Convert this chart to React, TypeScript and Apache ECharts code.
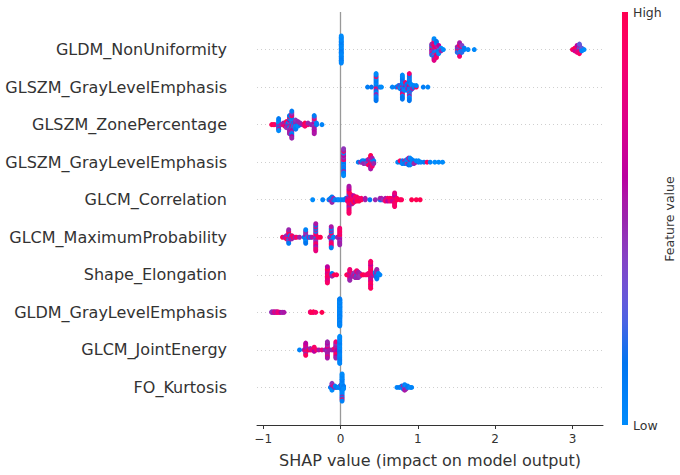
import React, { useEffect, useRef } from "react";
import * as echarts from "echarts";

// Each point: [SHAP value, feature value scaled to 0..1 for the colour map]
type Pt = [number, number];

// Feature labels, most important first (top row of the plot)
const featureNames = [
  "GLDM_NonUniformity",
  "GLSZM_GrayLevelEmphasis",
  "GLSZM_ZonePercentage",
  "GLSZM_GrayLevelEmphasis",
  "GLCM_Correlation",
  "GLCM_MaximumProbability",
  "Shape_Elongation",
  "GLDM_GrayLevelEmphasis",
  "GLCM_JointEnergy",
  "FO_Kurtosis",
];

const xTicks = [-1, 0, 1, 2, 3];
const xTitle = "SHAP value (impact on model output)";
const colorBarTitle = "Feature value";
const colorBarHigh = "High";
const colorBarLow = "Low";

const gldmNonUniformity: Pt[] = [
  [0.01, 0.05], [0.01, 0.02], [0.01, 0.08], [0.01, 0], [0.01, 0.1], [0.01, 0.04], [0.01, 0.06],
  [0.01, 0], [0.01, 0.03], [0.01, 0.07], [0.01, 0.01], [0.01, 0.09], [0.01, 0.05], [0.01, 0.02],
  [0.01, 0.08], [0.01, 0], [0.01, 0.1], [0.01, 0.04], [0.01, 0.06], [0.01, 0], [0.01, 0.03],
  [1.18, 0.9], [1.18, 0.15], [1.18, 0.6], [1.18, 1], [1.18, 0.4], [1.18, 0.1], [1.18, 0.85], [1.18, 0.5], [1.18, 0.2],
  [1.21, 0.85], [1.21, 0.1], [1.21, 0.55], [1.21, 0.95], [1.21, 0.2], [1.21, 0.7], [1.21, 0.05], [1.21, 1], [1.21, 0.45],
  [1.21, 0.8], [1.21, 0.3], [1.21, 0.6], [1.21, 0.15], [1.21, 0.9], [1.21, 0.5], [1.21, 0], [1.21, 0.75],
  [1.24, 0.1], [1.24, 0.9], [1.24, 0.35], [1.24, 0.65], [1.24, 0], [1.24, 0.75], [1.24, 0.2],
  [1.24, 0.5], [1.24, 0.95], [1.24, 0.05], [1.24, 0.6], [1.24, 0.15], [1.24, 0.85],
  [1.27, 0.15], [1.27, 0.85], [1.27, 0.05], [1.27, 0.4], [1.27, 0.1], [1.27, 0.6], [1.27, 0],
  [1.3, 0.1], [1.3, 0], [1.3, 0.5], [1.33, 0],
  [1.51, 0.4], [1.51, 0.1], [1.51, 0.95], [1.51, 0.5], [1.51, 0.2],
  [1.54, 0.6], [1.54, 0.2], [1.54, 0.9], [1.54, 0.45], [1.54, 0.05], [1.54, 0.75], [1.54, 0.3], [1.54, 1],
  [1.54, 0.1], [1.54, 0.55], [1.54, 0.85],
  [1.57, 0.1], [1.57, 0.5], [1.57, 0], [1.57, 0.85], [1.57, 0.2], [1.57, 0.4],
  [1.6, 0.05], [1.6, 0.1], [1.65, 0], [1.73, 0.02],
  [3.0, 0.95], [3.03, 0.85], [3.03, 1], [3.03, 0.7],
  [3.06, 0.7], [3.06, 0.95], [3.06, 0.5], [3.06, 0.9], [3.06, 0.8], [3.06, 0.6],
  [3.09, 0.6], [3.09, 0.2], [3.09, 0.85], [3.09, 0.4], [3.09, 0.75], [3.09, 0.5], [3.09, 0.9], [3.09, 0.3],
  [3.12, 0.1], [3.12, 0.3], [3.12, 0.05], [3.15, 0],
];

const glszmGrayLevelEmphasisA: Pt[] = [
  [0.35, 0.1], [0.4, 0.15],
  [0.46, 0.05], [0.46, 0.2], [0.46, 0.9], [0.46, 0.1], [0.46, 0.5], [0.46, 0], [0.46, 0.15], [0.46, 0.1],
  [0.46, 0.05], [0.46, 0.1], [0.46, 0.55], [0.46, 0], [0.46, 0.2], [0.46, 0.95], [0.46, 0.05], [0.46, 0.1],
  [0.46, 0.1], [0.46, 0], [0.46, 0.15],
  [0.51, 0.1], [0.53, 0],
  [0.67, 0.05], [0.72, 0.1], [0.75, 0.9], [0.75, 0.1],
  [0.77, 0.2], [0.77, 0.55], [0.77, 0.05], [0.78, 0], [0.78, 0.1],
  [0.8, 0.1], [0.8, 0.95], [0.8, 0.05], [0.8, 0.05], [0.8, 0.6], [0.8, 0.15], [0.8, 0.1], [0.8, 0], [0.8, 0.5],
  [0.8, 0.2], [0.8, 0.9], [0.8, 0.1], [0.8, 0.05], [0.8, 0.05], [0.8, 0.15], [0.8, 0], [0.8, 0.15],
  [0.82, 0.2], [0.82, 0.55], [0.82, 0.1], [0.82, 0.05], [0.82, 0.05],
  [0.84, 0.05], [0.84, 0.6], [0.84, 0.15], [0.84, 0.1], [0.84, 0], [0.84, 0.9],
  [0.86, 0.1], [0.86, 0.5], [0.86, 0.2], [0.86, 0.1], [0.86, 0.05],
  [0.87, 0], [0.87, 0.15], [0.87, 0.55],
  [0.89, 0.05], [0.89, 0.6], [0.89, 0.1], [0.89, 0.9], [0.89, 0.2], [0.89, 0.1], [0.89, 0], [0.89, 0.15],
  [0.89, 0.45], [0.89, 0.1], [0.89, 0.05], [0.89, 0.05], [0.89, 0.55], [0.89, 0.2], [0.89, 0], [0.89, 0.1],
  [0.89, 0.1], [0.89, 0.85], [0.89, 0.15],
  [0.91, 0.1], [0.91, 0.55], [0.91, 0.1], [0.91, 0.05], [0.91, 0.2],
  [0.93, 0.2], [0.93, 0], [0.93, 0.5], [0.95, 0.1], [0.95, 0.05], [0.98, 0.95], [0.98, 0.05],
  [1.07, 0.1], [1.13, 0.05],
];

const glszmZonePercentage: Pt[] = [
  [-0.89, 0.95], [-0.87, 1], [-0.85, 0.9],
  [-0.8, 0.05], [-0.8, 0.1], [-0.8, 0.5], [-0.8, 0], [-0.8, 0.15], [-0.8, 0.05], [-0.8, 0.55], [-0.8, 0.1], [-0.8, 0],
  [-0.77, 0.5], [-0.74, 0.95], [-0.74, 0.55], [-0.72, 0.85], [-0.72, 0.5], [-0.72, 0.9],
  [-0.7, 1], [-0.7, 0.5], [-0.7, 0.6], [-0.7, 0.95], [-0.7, 0.45],
  [-0.68, 0.45], [-0.68, 0.1], [-0.68, 0.5],
  [-0.66, 0.5], [-0.66, 0.1], [-0.66, 0.55], [-0.66, 0.4], [-0.66, 0.05], [-0.66, 0.6], [-0.66, 0.45],
  [-0.66, 0.1], [-0.66, 0.5], [-0.66, 0.9], [-0.66, 0.55], [-0.66, 0.15], [-0.66, 0.5],
  [-0.63, 0.1], [-0.63, 0.5], [-0.63, 0.9], [-0.63, 0.05], [-0.63, 0.55], [-0.63, 0.2], [-0.63, 0.45],
  [-0.63, 0], [-0.63, 0.6], [-0.63, 0.1], [-0.63, 0.5], [-0.63, 0.95], [-0.63, 0.05], [-0.63, 0.55],
  [-0.63, 0.15], [-0.63, 0.45], [-0.63, 0.6], [-0.63, 0.1], [-0.63, 0.5],
  [-0.61, 0.1], [-0.61, 0.5], [-0.61, 0.05], [-0.6, 0.05], [-0.6, 0.1], [-0.6, 0.45],
  [-0.58, 0.1], [-0.58, 0.5], [-0.58, 0], [-0.58, 0.55], [-0.58, 0.05], [-0.58, 0.45], [-0.58, 0.1],
  [-0.55, 0.05], [-0.55, 0.15], [-0.55, 0], [-0.55, 0.5], [-0.52, 0.1], [-0.52, 0.5], [-0.49, 0.55],
  [-0.46, 0.95], [-0.46, 1], [-0.46, 0.9], [-0.44, 0.9], [-0.42, 0.85], [-0.42, 0.5], [-0.38, 0.5],
  [-0.34, 0.5], [-0.34, 0.55], [-0.34, 0.45], [-0.34, 0.6], [-0.34, 0.5], [-0.34, 0.4], [-0.34, 0.55],
  [-0.34, 0.9], [-0.34, 0.5], [-0.34, 0.45], [-0.34, 0.6], [-0.34, 0.1], [-0.34, 0.55],
  [-0.31, 0.1], [-0.31, 0.05], [-0.24, 0.05],
];

const glszmGrayLevelEmphasisB: Pt[] = [
  [0.04, 0.1], [0.04, 0.5], [0.04, 0.05], [0.04, 0.9], [0.04, 0.15], [0.04, 0.55], [0.04, 0],
  [0.04, 0.45], [0.04, 0.2], [0.04, 0.6], [0.04, 0.05], [0.04, 0.5], [0.04, 0.1], [0.04, 0],
  [0.04, 0.55], [0.04, 0.95], [0.04, 0.05], [0.04, 0.5], [0.04, 0.1], [0.04, 0.45], [0.04, 0],
  [0.23, 0.1], [0.26, 0.5], [0.28, 0.45], [0.28, 0.1], [0.3, 0.55], [0.3, 0.05], [0.3, 0.5],
  [0.33, 0.5], [0.33, 0.15], [0.33, 0.45],
  [0.36, 0.9], [0.36, 0.5], [0.36, 0.1], [0.36, 0.55], [0.36, 0.95],
  [0.39, 0.85], [0.39, 0.5], [0.39, 1], [0.39, 0.55], [0.39, 0.95], [0.39, 0.45], [0.39, 0.6],
  [0.39, 0.9], [0.39, 0.5], [0.39, 1], [0.39, 0.55],
  [0.41, 0.1], [0.41, 0.9], [0.41, 0.5], [0.41, 0.05], [0.41, 0.95], [0.41, 0.55], [0.41, 0.85],
  [0.43, 0.55], [0.43, 0.1], [0.43, 0.5],
  [0.74, 0.05], [0.77, 0.1], [0.77, 0.95], [0.8, 1], [0.8, 0.1], [0.8, 0.05],
  [0.83, 0.05], [0.83, 0.5], [0.83, 0.1], [0.86, 0.1], [0.86, 0], [0.86, 0.45], [0.86, 0.05],
  [0.88, 0.05], [0.88, 0.1], [0.88, 0.9], [0.88, 0], [0.88, 0.15], [0.88, 0.5],
  [0.9, 0], [0.9, 0.15], [0.9, 0.05], [0.9, 0.55], [0.9, 0.1], [0.9, 0],
  [0.92, 0.1], [0.92, 0.5], [0.92, 0], [0.92, 0.05], [0.95, 0.05], [0.95, 0.1], [0.95, 0.5],
  [0.98, 0.55], [0.98, 0.05], [1.01, 0.1], [1.01, 0],
  [1.04, 0.05], [1.08, 0.1], [1.12, 0.95], [1.16, 0.05], [1.22, 0], [1.27, 0], [1.32, 0],
];

const glcmCorrelation: Pt[] = [
  [-0.36, 0], [-0.23, 0.05], [-0.15, 0.1], [-0.13, 0.5], [-0.13, 0.1],
  [-0.11, 0.45], [-0.11, 0.05], [-0.11, 0.55], [-0.11, 0.1], [-0.11, 0.5], [-0.09, 0.1], [-0.09, 0.5],
  [-0.07, 0.05], [-0.04, 0.1], [-0.02, 0], [0.01, 0.05], [0.04, 0.1],
  [0.07, 0.05], [0.07, 0.15], [0.09, 0.1], [0.09, 0.5], [0.09, 0.85],
  [0.11, 0.8], [0.11, 0.6], [0.11, 1], [0.11, 0.7], [0.11, 0.9], [0.11, 0.55], [0.11, 0.85],
  [0.11, 0.1], [0.11, 0.95], [0.11, 0.75], [0.11, 0.65], [0.11, 0.9], [0.11, 0.5], [0.11, 1],
  [0.11, 0.8], [0.11, 0.6], [0.11, 0.95], [0.11, 0.7], [0.11, 0.85], [0.11, 0.55], [0.11, 0.9],
  [0.13, 1], [0.13, 0.9], [0.13, 0.95], [0.13, 0.85], [0.13, 1], [0.13, 0.6], [0.13, 0.9], [0.13, 0.95],
  [0.15, 0.9], [0.15, 1], [0.15, 0.95], [0.15, 0.8], [0.15, 1], [0.15, 0.9], [0.15, 0.55],
  [0.17, 1], [0.17, 0.85], [0.17, 0.95], [0.17, 0.9], [0.17, 1], [0.17, 0.6],
  [0.19, 0.95], [0.19, 1], [0.19, 0.6], [0.19, 0.9], [0.21, 0.9], [0.21, 0.55], [0.21, 1], [0.21, 0.95],
  [0.24, 0.95], [0.24, 0.85], [0.24, 1], [0.27, 1], [0.27, 0.9], [0.32, 0.5], [0.32, 0.55],
  [0.38, 0.1], [0.45, 0.5], [0.51, 0.2], [0.51, 0.5], [0.53, 0.1], [0.53, 0.55], [0.55, 0.45],
  [0.58, 0.8], [0.58, 0.55], [0.58, 0.9], [0.61, 0.85], [0.61, 0.9], [0.61, 0.6],
  [0.64, 0.75], [0.64, 0.95], [0.64, 0.85], [0.67, 0.8], [0.67, 0.9], [0.67, 0.7],
  [0.7, 0.75], [0.7, 0.85], [0.7, 0.7], [0.7, 0.9], [0.7, 0.8], [0.7, 0.65], [0.7, 0.95],
  [0.7, 0.6], [0.7, 0.85], [0.7, 0.8], [0.7, 0.9],
  [0.73, 1], [0.73, 0.95], [0.77, 1], [0.79, 0.95], [0.92, 1], [0.98, 1], [1.03, 1],
];

const glcmMaximumProbability: Pt[] = [
  [-0.75, 1], [-0.72, 0.55], [-0.7, 0.85], [-0.7, 0.5], [-0.7, 0.9],
  [-0.67, 0.5], [-0.67, 0.1], [-0.67, 0.9], [-0.67, 0.55], [-0.67, 0.05], [-0.67, 0.8], [-0.67, 0.45],
  [-0.67, 1], [-0.67, 0.1], [-0.67, 0.5],
  [-0.65, 0.45], [-0.65, 0.1], [-0.65, 0.55], [-0.63, 0.55], [-0.63, 0.9], [-0.63, 0.5],
  [-0.61, 0.95], [-0.59, 0.5], [-0.57, 0.9], [-0.53, 0.5], [-0.47, 0.1],
  [-0.45, 0.1], [-0.45, 0.5], [-0.45, 0.05], [-0.45, 0.55], [-0.45, 0.1], [-0.45, 0.45], [-0.45, 0],
  [-0.45, 0.5], [-0.45, 0.15], [-0.45, 0.05],
  [-0.43, 0.05], [-0.41, 0.5], [-0.39, 0.1], [-0.37, 0.55],
  [-0.32, 0.8], [-0.32, 0.5], [-0.32, 0.1], [-0.32, 0.9], [-0.32, 0.55], [-0.32, 0.85], [-0.32, 0.45],
  [-0.32, 0.05], [-0.32, 0.75], [-0.32, 0.5], [-0.32, 0.95], [-0.32, 0.1], [-0.32, 0.6], [-0.32, 0.85],
  [-0.32, 0.5], [-0.32, 0.15], [-0.32, 0.9], [-0.32, 0.55], [-0.32, 0.8],
  [-0.29, 0.95], [-0.26, 1], [-0.14, 0.5],
  [-0.12, 0.85], [-0.12, 0.1], [-0.12, 0.8], [-0.12, 0.5], [-0.12, 0.05], [-0.12, 0.9], [-0.12, 0.55],
  [-0.12, 0.1], [-0.12, 0.85], [-0.12, 0.5], [-0.12, 0.95], [-0.12, 0.05], [-0.12, 0.8], [-0.12, 0.55], [-0.12, 0.1],
  [-0.09, 0.05], [-0.04, 0.5],
  [-0.01, 0.55], [-0.01, 0.85], [-0.01, 0.5], [-0.01, 1], [-0.01, 0.6], [-0.01, 0.8], [-0.01, 0.45],
  [-0.01, 0.9], [-0.01, 0.55], [-0.01, 0.95], [-0.01, 0.5], [-0.01, 0.85],
];

const shapeElongation: Pt[] = [
  [-0.17, 0.85], [-0.17, 0.75], [-0.17, 0.9], [-0.17, 0.8], [-0.17, 0.95], [-0.17, 0.7], [-0.17, 0.85],
  [-0.17, 0.9], [-0.17, 0.75], [-0.17, 1], [-0.17, 0.8], [-0.17, 0.6], [-0.17, 0.9],
  [-0.15, 0.9], [-0.11, 0.05], [-0.11, 0.1], [-0.11, 0.5], [-0.08, 1], [-0.05, 0.95],
  [0.08, 1], [0.1, 0.9],
  [0.12, 0.85], [0.12, 0.75], [0.12, 0.9], [0.12, 0.55], [0.12, 0.8], [0.12, 0.95], [0.12, 0.7], [0.12, 0.85], [0.12, 0.5],
  [0.15, 0.5], [0.15, 0.9], [0.15, 0.55], [0.17, 0.55], [0.17, 0.45], [0.17, 0.5],
  [0.19, 0.5], [0.19, 0.55], [0.19, 0.9], [0.19, 0.45], [0.19, 0.5],
  [0.21, 0.45], [0.21, 0.5], [0.21, 0.1], [0.21, 0.55], [0.21, 0.5], [0.21, 0.9],
  [0.23, 0.5], [0.23, 0.85], [0.23, 0.45], [0.23, 0.55], [0.23, 0.5],
  [0.25, 0.55], [0.25, 0.5], [0.25, 0.45],
  [0.28, 0.95], [0.3, 1], [0.33, 0.9], [0.36, 0.95], [0.36, 0.85],
  [0.39, 0.9], [0.39, 0.8], [0.39, 1], [0.39, 0.85], [0.39, 0.75], [0.39, 0.95], [0.39, 0.55],
  [0.39, 0.9], [0.39, 0.8], [0.39, 1], [0.39, 0.7], [0.39, 0.85], [0.39, 0.95], [0.39, 0.8],
  [0.39, 0.9], [0.39, 0.6], [0.39, 1], [0.39, 0.85], [0.39, 0.75], [0.39, 0.9], [0.39, 0.95],
  [0.42, 0.5], [0.42, 0.85], [0.45, 0.45], [0.45, 0.1], [0.45, 0.5], [0.45, 0.05],
  [0.47, 0.1], [0.47, 0.5], [0.47, 0.05], [0.47, 0.55], [0.47, 0.15], [0.47, 0.45], [0.47, 0.1], [0.47, 0.5],
  [0.49, 0.1], [0.49, 0.05], [0.51, 0.05],
];

const gldmGrayLevelEmphasis: Pt[] = [
  [-0.89, 0.5], [-0.89, 0.45], [-0.87, 0.55], [-0.87, 0.5], [-0.85, 0.6], [-0.85, 0.8],
  [-0.83, 0.85], [-0.83, 0.55], [-0.81, 0.9], [-0.81, 0.8], [-0.79, 0.85], [-0.77, 0.6],
  [-0.75, 0.5], [-0.73, 0.55],
  [-0.39, 0.95], [-0.39, 0.85], [-0.37, 1], [-0.35, 0.8], [-0.35, 1], [-0.32, 0.9], [-0.24, 1],
  [-0.01, 0.05], [-0.01, 0.02], [-0.01, 0.08], [-0.01, 0], [-0.01, 0.1], [-0.01, 0.04], [-0.01, 0.06],
  [-0.01, 0], [-0.01, 0.03], [-0.01, 0.07], [-0.01, 0.01], [-0.01, 0.09], [-0.01, 0.05], [-0.01, 0.02],
  [-0.01, 0.08], [-0.01, 0], [-0.01, 0.1], [-0.01, 0.04], [-0.01, 0.06], [-0.01, 0], [-0.01, 0.03],
  [-0.01, 0.07], [-0.01, 0.01], [-0.01, 0.09], [-0.01, 0.05], [-0.01, 0.02], [-0.01, 0.08], [-0.01, 0],
  [-0.01, 0.1], [-0.01, 0.04], [-0.01, 0.06], [-0.01, 0], [-0.01, 0.03], [-0.01, 0.07], [-0.01, 0.01],
  [-0.01, 0.09], [-0.01, 0.05], [-0.01, 0.02], [-0.01, 0.08], [-0.01, 0], [-0.01, 0.1], [-0.01, 0.04],
  [-0.01, 0.06], [-0.01, 0], [-0.01, 0.03], [-0.01, 0.07], [-0.01, 0.01], [-0.01, 0.09], [-0.01, 0.05],
];

const glcmJointEnergy: Pt[] = [
  [-0.53, 0.05], [-0.47, 0.5],
  [-0.45, 0.8], [-0.45, 0.6], [-0.45, 0.9], [-0.45, 0.55], [-0.45, 0.85], [-0.45, 0.7], [-0.45, 0.5],
  [-0.45, 0.75], [-0.45, 0.95], [-0.45, 0.6],
  [-0.43, 0.9], [-0.43, 0.55], [-0.41, 1], [-0.39, 0.95], [-0.39, 0.5], [-0.37, 0.8],
  [-0.34, 0.85], [-0.34, 1], [-0.34, 0.6], [-0.34, 0.9], [-0.31, 0.9], [-0.28, 0.55], [-0.24, 0.8], [-0.2, 0.5],
  [-0.17, 0.5], [-0.17, 0.55], [-0.17, 0.45], [-0.17, 0.6], [-0.17, 0.5], [-0.17, 0.8], [-0.17, 0.55],
  [-0.17, 0.45], [-0.17, 0.5], [-0.17, 0.6], [-0.17, 0.85], [-0.17, 0.5], [-0.17, 0.55],
  [-0.14, 0.55], [-0.11, 0.5], [-0.08, 0.6], [-0.08, 0.85],
  [-0.06, 0.55], [-0.06, 0.8], [-0.06, 0.5], [-0.06, 0.9], [-0.06, 0.6], [-0.06, 0.5], [-0.06, 0.85],
  [-0.06, 0.55], [-0.06, 0.95], [-0.06, 0.45], [-0.06, 0.6], [-0.06, 0.8], [-0.06, 0.5],
  [-0.04, 0.6],
  [-0.01, 0.05], [-0.01, 0.02], [-0.01, 0.08], [-0.01, 0], [-0.01, 0.1], [-0.01, 0.04], [-0.01, 0.06],
  [-0.01, 0], [-0.01, 0.03], [-0.01, 0.07], [-0.01, 0.01], [-0.01, 0.09], [-0.01, 0.05], [-0.01, 0.02],
  [-0.01, 0.08], [-0.01, 0], [-0.01, 0.1], [-0.01, 0.04], [-0.01, 0.06], [-0.01, 0], [-0.01, 0.03],
];

const foKurtosis: Pt[] = [
  [-0.13, 0.1], [-0.11, 0.05], [-0.11, 0.5], [-0.11, 0.1], [-0.11, 0.55], [-0.11, 0], [-0.11, 0.45],
  [-0.09, 0.1], [-0.09, 0.8], [-0.07, 0.5], [-0.07, 0.05], [-0.05, 0.1], [-0.03, 0.05],
  [-0.01, 0.1], [-0.01, 0], [0.01, 0.05], [0.01, 0.1], [0.01, 0], [0.01, 0.5],
  [0.02, 0.05], [0.02, 0.02], [0.02, 0.08], [0.02, 0], [0.02, 0.1], [0.02, 0.04], [0.02, 0.06],
  [0.02, 0], [0.02, 0.03], [0.02, 0.07], [0.02, 0.01], [0.02, 0.09], [0.02, 0.05], [0.02, 0.02],
  [0.02, 0.5], [0.02, 0], [0.02, 0.1], [0.02, 0.04], [0.02, 0.9], [0.02, 0], [0.02, 0.06],
  [0.04, 0.05], [0.04, 0.1], [0.04, 0],
  [0.73, 0.05], [0.76, 0.1], [0.79, 0], [0.79, 0.1], [0.81, 0.05], [0.81, 0.5], [0.81, 0.1],
  [0.83, 0.5], [0.83, 0.1], [0.83, 0.45], [0.83, 0.05], [0.83, 0.55],
  [0.85, 0.1], [0.85, 0], [0.85, 0.5], [0.87, 0.05], [0.87, 0.1], [0.9, 0], [0.92, 0.05],
];

// Rows in display order, top to bottom
const rows: Pt[][] = [
  gldmNonUniformity,
  glszmGrayLevelEmphasisA,
  glszmZonePercentage,
  glszmGrayLevelEmphasisB,
  glcmCorrelation,
  glcmMaximumProbability,
  shapeElongation,
  gldmGrayLevelEmphasis,
  glcmJointEnergy,
  foKurtosis,
];

const X_MIN = -1.08;
const X_MAX = 3.395;
const ROW_HEIGHT = 0.4;
const FONT = "DejaVu Sans";

// Red-blue colour map interpolated in CIE LCh (blue -> purple -> red)
function lchColor(t: number): string {
  const u = Math.min(1, Math.max(0, t));
  const L = u <= 0.5 ? 54 - 28 * u : 40 + 28 * (u - 0.5);
  const C = 70 + 20 * u;
  const H = 4.6588 + (0.35470565 + 2 * Math.PI - 4.6588) * u;
  const a = C * Math.cos(H);
  const b = C * Math.sin(H);
  const fy = (L + 16) / 116;
  const fx = fy + a / 500;
  const fz = fy - b / 200;
  const inv = (f: number) => (f > 6 / 29 ? f * f * f : 3 * (6 / 29) * (6 / 29) * (f - 4 / 29));
  const X = 0.95047 * inv(fx);
  const Y = inv(fy);
  const Z = 1.08883 * inv(fz);
  const lin = [
    3.2406 * X - 1.5372 * Y - 0.4986 * Z,
    -0.9689 * X + 1.8758 * Y + 0.0415 * Z,
    0.0557 * X - 0.204 * Y + 1.057 * Z,
  ];
  const ch = lin.map((c) => {
    const v = c <= 0.0031308 ? 12.92 * c : 1.055 * Math.pow(Math.max(c, 0), 1 / 2.4) - 0.055;
    return Math.round(Math.min(1, Math.max(0, v)) * 255);
  });
  return `rgb(${ch[0]},${ch[1]},${ch[2]})`;
}

// Beeswarm layout: stack points that share a quantised bin, alternating up and down;
// the tallest stack of each row fills 0.9 of the row band
function swarmOffsets(xs: number[]): number[] {
  const min = Math.min(...xs);
  const max = Math.max(...xs);
  const nbins = 100;
  const quant = xs.map((v) => Math.round((nbins * (v - min)) / (max - min + 1e-8)));
  const order = xs.map((_, i) => i).sort((p, q) => quant[p] - quant[q] || p - q);
  const ys = new Array(xs.length).fill(0);
  let layer = 0;
  let last = -1;
  for (const i of order) {
    if (quant[i] !== last) layer = 0;
    ys[i] = Math.ceil(layer / 2) * ((layer % 2) * 2 - 1);
    layer += 1;
    last = quant[i];
  }
  const peak = Math.max(1, ...ys.map((y) => Math.abs(y)));
  return ys.map((y) => y * 0.9 * (ROW_HEIGHT / peak));
}

function buildPoints() {
  const out: { value: [number, number]; itemStyle: { color: string } }[] = [];
  rows.forEach((row, i) => {
    const pos = rows.length - 1 - i;
    const offs = swarmOffsets(row.map((p) => p[0]));
    row.forEach((p, j) => {
      out.push({ value: [p[0], pos + offs[j]], itemStyle: { color: lchColor(p[1]) } });
    });
  });
  return out;
}

const fmtTick = (v: number) => (v < 0 ? "\u2212" + Math.abs(v) : String(v));

export default function App() {
  const ref = useRef<HTMLDivElement>(null);

  useEffect(() => {
    if (!ref.current) return;
    const chart = echarts.init(ref.current, undefined, { renderer: "svg" });

    const gradStops = [];
    for (let k = 0; k <= 20; k++) {
      gradStops.push({ offset: k / 20, color: lchColor(1 - k / 20) });
    }

    const gridLeft = 257;
    const gridTop = 12;
    const gridRight = 77;
    const gridBottom = 50;
    const plotBottom = 475 - gridBottom;

    chart.setOption({
      animation: false,
      backgroundColor: "#ffffff",
      textStyle: { fontFamily: FONT },
      grid: { left: gridLeft, right: gridRight, top: gridTop, bottom: gridBottom, containLabel: false },
      xAxis: {
        type: "value",
        min: X_MIN,
        max: X_MAX,
        axisLine: { show: true, onZero: false, lineStyle: { color: "#333333", width: 1 } },
        axisTick: {
          show: true,
          customValues: xTicks,
          length: 4,
          lineStyle: { color: "#333333", width: 1 },
        },
        axisLabel: {
          customValues: xTicks,
          formatter: (v: number) => fmtTick(v),
          color: "#333333",
          fontSize: 12,
          fontFamily: FONT,
          margin: 8,
        },
        splitLine: { show: false },
        name: xTitle,
        nameLocation: "middle",
        nameGap: 27,
        nameTextStyle: { fontSize: 16, color: "#333333", fontFamily: FONT },
      },
      yAxis: {
        type: "value",
        min: -1,
        max: rows.length,
        interval: 1,
        axisLine: { show: false, onZero: false },
        axisTick: { show: false },
        axisLabel: {
          customValues: rows.map((_, i) => i),
          formatter: (v: number) => featureNames[rows.length - 1 - v] ?? "",
          color: "#333333",
          fontSize: 16,
          fontFamily: FONT,
          margin: 30,
        },
        splitLine: {
          show: true,
          showMinLine: false,
          showMaxLine: false,
          lineStyle: { color: "#cfcfcf", width: 1, type: [1, 3] },
        },
      },
      series: [
        {
          type: "scatter",
          symbol: "circle",
          symbolSize: 5,
          z: 3,
          silent: true,
          itemStyle: { opacity: 1, borderWidth: 0 },
          emphasis: { disabled: true },
          data: buildPoints(),
          markLine: {
            silent: true,
            z: 1,
            symbol: "none",
            label: { show: false },
            lineStyle: { color: "#999999", width: 1.3, type: "solid" },
            data: [{ xAxis: 0 }],
          },
        },
      ],
      graphic: [
        {
          type: "rect",
          shape: { x: 622, y: gridTop, width: 6, height: plotBottom - gridTop },
          style: { fill: new echarts.graphic.LinearGradient(0, 0, 0, 1, gradStops) },
          silent: true,
        },
        {
          type: "text",
          x: 633,
          y: gridTop,
          style: {
            text: colorBarHigh,
            fontSize: 12.5,
            fontFamily: FONT,
            fill: "#333333",
            align: "left",
            verticalAlign: "middle",
          },
        },
        {
          type: "text",
          x: 633,
          y: plotBottom,
          style: {
            text: colorBarLow,
            fontSize: 12.5,
            fontFamily: FONT,
            fill: "#333333",
            align: "left",
            verticalAlign: "middle",
          },
        },
        {
          type: "text",
          x: 669,
          y: 219,
          rotation: Math.PI / 2,
          style: {
            text: colorBarTitle,
            fontSize: 12.5,
            fontFamily: FONT,
            fill: "#333333",
            align: "center",
            verticalAlign: "middle",
          },
        },
      ],
    });

    return () => chart.dispose();
  }, []);

  return (
    <div
      ref={ref}
      style={{ position: "fixed", left: 0, top: 0, width: 680, height: 475, background: "#ffffff" }}
    />
  );
}
